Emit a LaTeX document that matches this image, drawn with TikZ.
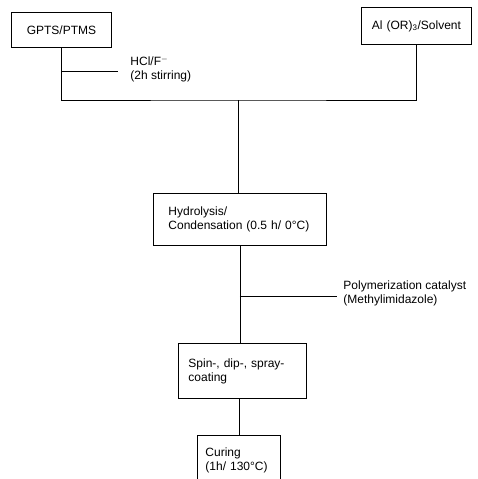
\documentclass[tikz,border=0pt]{standalone}
\usepackage{fontspec}
\setmainfont{Liberation Sans}
\begin{document}
\begin{tikzpicture}[x=1pt,y=-1pt, line width=0.9pt,
  box/.style={draw, anchor=north west, inner ysep=0pt, font=\fontsize{12}{14}\selectfont},
  lab/.style={anchor=west, align=left, inner sep=0pt, font=\fontsize{12}{14}\selectfont}]

  \useasboundingbox (0,0) rectangle (477,479);

  % Starting materials
  \node[box, align=center, minimum width=100pt, minimum height=35pt, inner xsep=12pt, text width=76pt]
    (gpts) at (11,12) {GPTS/PTMS};
  \node[box, align=center, minimum width=110pt, minimum height=37pt, inner xsep=4pt, text width=102pt]
    (alor) at (361,7) {Al (OR)\textsubscript{3}/Solvent};

  % Process steps
  \node[box, align=left, minimum width=173pt, minimum height=52pt, inner xsep=15pt, text width=143pt]
    (hyd) at (153,193) {Hydrolysis/\\Condensation (0.5 h/ 0°C)};
  \node[box, align=left, minimum width=128pt, minimum height=55pt, inner xsep=10pt, text width=108pt]
    (spin) at (178,343) {Spin-, dip-, spray-\\coating};
  \node[box, align=left, minimum width=83pt, minimum height=50pt, inner xsep=8pt, text width=67pt]
    (cur) at (197,435) {Curing\\(1h/ 130°C)};

  % Joining lines
  \coordinate (top) at (238,100);
  \draw (gpts.south) |- (top) -| (alor.south);
  \draw (top) -- (top |- hyd.north);
  \draw (hyd.south) -- (hyd.south |- spin.north);
  \draw (cur.north |- spin.south) -- (cur.north);

  % Additions
  \coordinate (hcl) at (118,71);
  \draw (gpts.south |- hcl) -- (hcl);
  \node[lab] (hcllab) at (130,69.5) {HCl/F$^{-}$\\(2h stirring)};

  \coordinate (cat) at (337,296);
  \draw (hyd.south |- cat) -- (cat);
  \node[lab] (catlab) at (343,293) {Polymerization catalyst\\(Methylimidazole)};

\end{tikzpicture}
\end{document}
